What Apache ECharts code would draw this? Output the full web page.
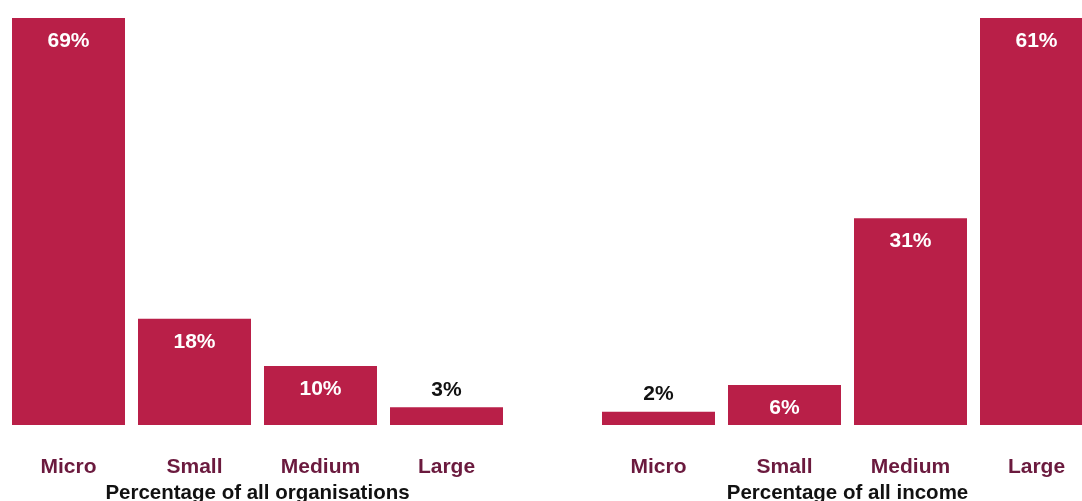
<!DOCTYPE html>
<html>
<head>
<meta charset="utf-8">
<script src="https://cdn.jsdelivr.net/npm/echarts@6/dist/echarts.min.js"></script>
<style>
  html, body { margin: 0; padding: 0; background: #fff; }
  #chart { width: 1082px; height: 501px; }
</style>
</head>
<body>
<div id="chart"></div>
<script>
const categories = ['Micro', 'Small', 'Medium', 'Large']
const orgShare = [69, 18, 10, 3]
const incomeShare = [2, 6, 31, 61]
const groupNames = ['Percentage of all organisations', 'Percentage of all income']

const barColor = '#b91f48'
const catColor = '#6b1a3e'
const font = 'Liberation Sans, Arial, sans-serif'

// small bars get their label above in black, the rest inside in white
function toBarData (values) {
  return values.map(v => {
    const small = v < 5
    return {
      value: v,
      label: small
        ? { position: 'top', distance: 7, color: '#111' }
        : { position: 'insideTop', distance: 13, color: '#fff' }
    }
  })
}

function makeX (idx, name) {
  return {
    type: 'category',
    gridIndex: idx,
    data: categories,
    axisLine: { show: false },
    axisTick: { show: false },
    axisLabel: {
      margin: 32,
      color: catColor,
      fontFamily: font,
      fontWeight: 'bold',
      fontSize: 21
    },
    name: name,
    nameLocation: 'middle',
    nameGap: 56.5,
    nameTextStyle: {
      color: '#111',
      fontFamily: font,
      fontWeight: 'bold',
      fontSize: 20.5
    }
  }
}

function makeY (idx, max) {
  return {
    type: 'value',
    gridIndex: idx,
    min: 0,
    max: max,
    show: false,
    splitLine: { show: false }
  }
}

function makeSeries (idx, values) {
  return {
    type: 'bar',
    xAxisIndex: idx,
    yAxisIndex: idx,
    barWidth: 113,
    itemStyle: { color: barColor },
    label: {
      show: true,
      formatter: '{c}%',
      fontFamily: font,
      fontWeight: 'bold',
      fontSize: 21
    },
    data: toBarData(values)
  }
}

const chart = echarts.init(document.getElementById('chart'))
chart.setOption({
  animation: false,
  backgroundColor: '#fff',
  grid: [
    { left: 5.5, width: 504, top: 18, bottom: 76, containLabel: false, outerBoundsMode: 'none' },
    { left: 595.5, width: 504, top: 18, bottom: 76, containLabel: false, outerBoundsMode: 'none' }
  ],
  xAxis: [makeX(0, groupNames[0]), makeX(1, groupNames[1])],
  yAxis: [makeY(0, Math.max(...orgShare)), makeY(1, Math.max(...incomeShare))],
  series: [makeSeries(0, orgShare), makeSeries(1, incomeShare)]
})
</script>
</body>
</html>
